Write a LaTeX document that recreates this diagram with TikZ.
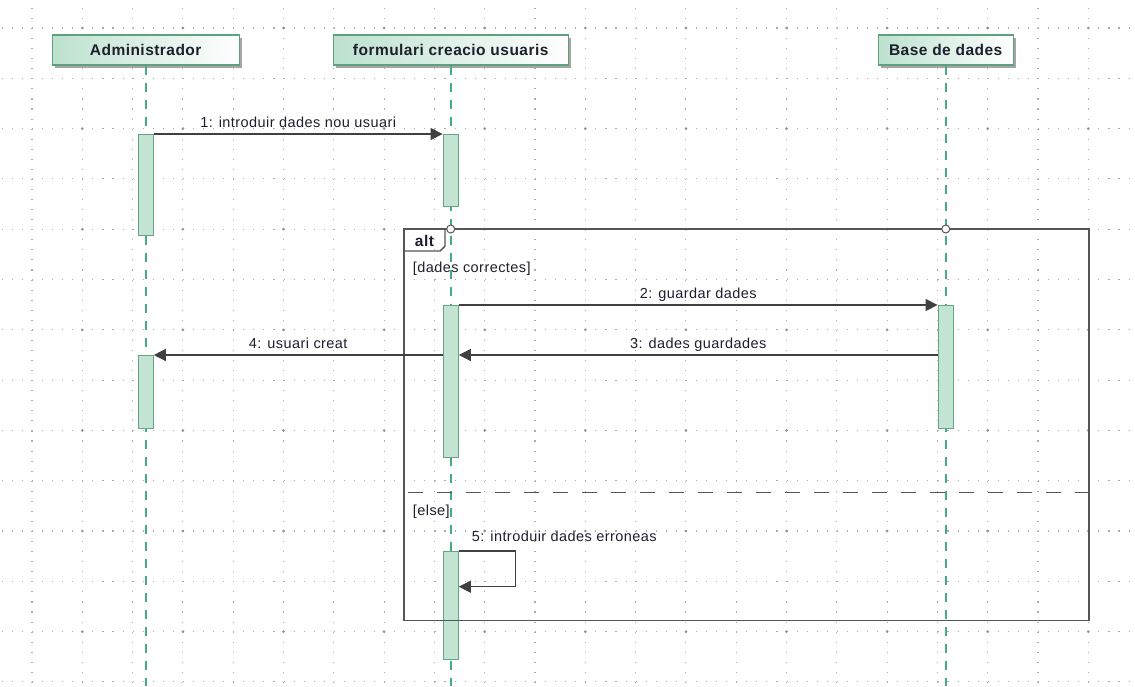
\documentclass[tikz,border=0pt]{standalone}
\usepackage{fontspec}
\setmainfont{Liberation Sans}[LetterSpace=3]
\usetikzlibrary{arrows.meta,shadows}

\definecolor{headgreen}{RGB}{188,225,206}
\definecolor{headline}{RGB}{95,160,125}
\definecolor{actfill}{RGB}{196,228,211}
\definecolor{actline}{RGB}{100,165,130}
\definecolor{lifegreen}{RGB}{70,172,130}
\definecolor{msgcol}{RGB}{64,64,64}
\definecolor{fragcol}{RGB}{85,85,85}
\definecolor{txtcol}{RGB}{30,30,45}

\begin{document}
\begin{tikzpicture}
  [x=1pt,y=-1pt,
   head/.style={draw=headline,line width=1.2pt,left color=headgreen,right color=white,
     minimum height=30pt,inner sep=0pt,text=txtcol,font=\fontsize{15.5}{18}\selectfont\bfseries,
     drop shadow={shadow xshift=3pt,shadow yshift=-3pt,fill=black!35,opacity=1}},
   act/.style={draw=actline,fill=actfill,line width=1.2pt,minimum width=15pt,inner sep=0pt,anchor=north},
   life/.style={draw=lifegreen,line width=1.8pt,dash pattern=on 9pt off 8pt},
   msg/.style={draw=msgcol,line width=1.3pt,-{Triangle[length=12pt,width=12pt]}},
   lbl/.style={anchor=base,yshift=6.5pt,inner sep=0pt,text=txtcol,font=\fontsize{14.5}{17}\selectfont},
   guard/.style={anchor=base west,inner sep=0pt,text=txtcol,font=\fontsize{14.5}{17}\selectfont},
   frame/.style={draw=fragcol,line width=1.4pt},
   gate/.style={circle,draw=fragcol,fill=white,minimum size=8pt,inner sep=0pt,line width=1pt},
   griddots/.style={draw=gray!65,line width=1.1pt,dash pattern=on 1.1pt off 8.96pt}]
  \useasboundingbox (0,0) rectangle (1135,686);

  % dotted grid
  \begin{scope}
    \clip (0,0) rectangle (1135,686);
    \foreach \i in {0,...,21}
      \draw[griddots] ({32+50.3*\i},-22.3) -- ({32+50.3*\i},700);
    \foreach \j in {0,...,13}
      \draw[griddots] (-18.3,{28+50.3*\j}) -- (1150,{28+50.3*\j});
    \foreach \i in {1,3,...,21}
      \foreach \j in {0,2,...,12}
        \fill[gray!85] ({32+50.3*\i},{28+50.3*\j}) circle (1.5pt);
  \end{scope}

  % lifelines
  \node[head,minimum width=187pt] (adm) at (145.7,50) {Administrador};
  \node[head,minimum width=235pt] (form) at (450.7,50) {formulari creacio usuaris};
  \node[head,minimum width=135pt] (base) at (945.7,50) {Base de dades};
  \coordinate (bottom) at (0,686);
  \foreach \n in {adm,form,base}
    \draw[life] (\n.south) -- (\n.south |- bottom);

  % activations
  \node[act,minimum height=101pt] (a1) at (adm |- 0,134) {};
  \node[act,minimum height=73pt] (a2) at (adm |- 0,355) {};
  \node[act,minimum height=72pt] (f1) at (form |- 0,134) {};
  \node[act,minimum height=152pt] (f2) at (form |- 0,305) {};
  \node[act,minimum height=108pt] (f3) at (form |- 0,551) {};
  \node[act,minimum height=123pt] (b1) at (base |- 0,305) {};

  % alt fragment
  \coordinate (fnw) at (404,229);
  \coordinate (fse) at (1089,620.5);
  \draw[frame] (fnw) rectangle (fse);
  \draw[frame] (fnw) -- (445,229) -- (445,246) -- (440,251) -- (404,251);
  \node[anchor=base,inner sep=0pt,text=txtcol,font=\fontsize{15.5}{18}\selectfont\bfseries] (altlbl) at (424.5,246.7) {alt};
  \node[gate] (gform) at (form |- fnw) {};
  \node[gate] (gbase) at (base |- fnw) {};
  \node[guard] (g1) at (412.7,272.3) {[dades correctes]};
  \coordinate (sep) at (404,492.7);
  \draw[frame,line width=1.2pt,dash pattern=on 15pt off 14pt,dash phase=-4pt] (sep) -- (sep -| fse);
  \node[guard] (g2) at (412.7,515) {[else]};

  % messages
  \draw[msg] (a1.north east) -- (f1.north west) node[lbl,midway] {1: introduir dades nou usuari};
  \draw[msg] (f2.north east) -- (b1.north west) node[lbl,midway] {2: guardar dades};
  \draw[msg] (b1.west |- a2.north) -- (f2.east |- a2.north) node[lbl,midway] {3: dades guardades};
  \draw[msg] (f2.west |- a2.north) -- (a2.north east) node[lbl,midway] {4: usuari creat};
  \coordinate (loop5) at (515.7,586.7);
  \draw[msg] (f3.north east) -| (loop5) -- (f3.east |- loop5);
  \node[guard] (m5) at (471.7,541.7) {5: introduir dades erroneas};

\end{tikzpicture}
\end{document}
